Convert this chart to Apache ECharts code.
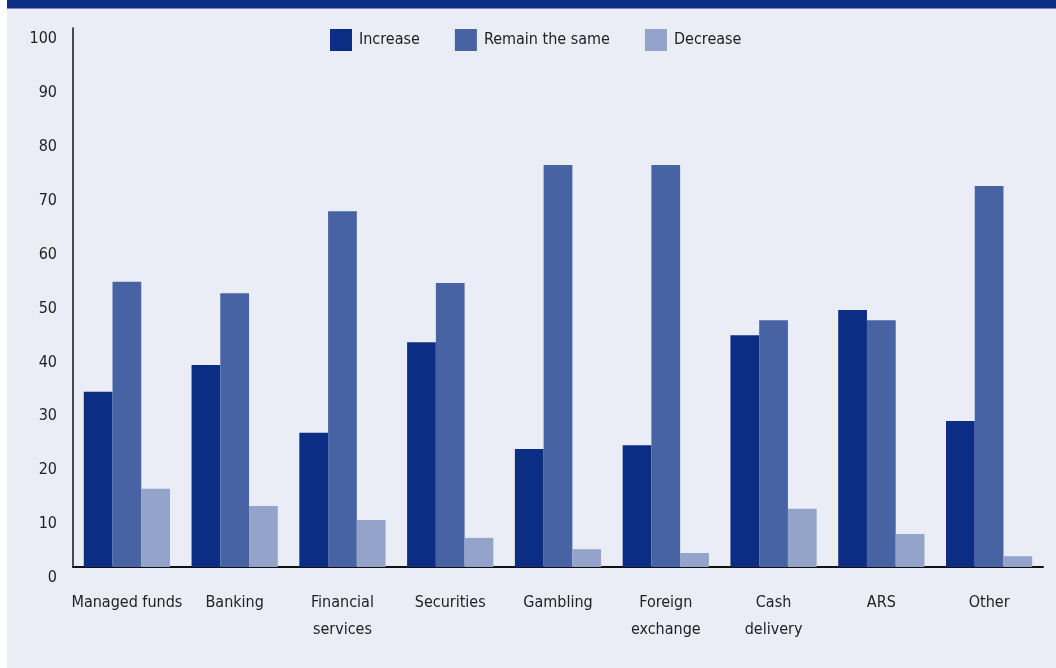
<!DOCTYPE html>
<html>
<head>
<meta charset="utf-8">
<script src="https://cdn.jsdelivr.net/npm/echarts@6/dist/echarts.min.js"></script>
<style>
  html, body { margin: 0; padding: 0; background: #ffffff; }
  #chart { width: 1056px; height: 668px; }
</style>
</head>
<body>
<div id="chart"></div>
<script>
// Sectors along the x axis
const categories = ['Managed funds', 'Banking', 'Financial\nservices', 'Securities', 'Gambling',
  'Foreign\nexchange', 'Cash\ndelivery', 'ARS', 'Other'];

// Share of respondents (%)
const increase = [32.5, 37.5, 24.9, 41.7, 21.9, 22.6, 43.0, 47.7, 27.1];
const remainSame = [52.9, 50.8, 66.0, 52.7, 74.6, 74.6, 45.8, 45.8, 70.7];
const decrease = [14.5, 11.3, 8.7, 5.4, 3.3, 2.6, 10.8, 6.1, 2.0];

const yTicks = [0, 10, 20, 30, 40, 50, 60, 70, 80, 90, 100];

const seriesNames = ['Increase', 'Remain the same', 'Decrease'];
const colors = ['#0b2e84', '#4763a3', '#93a3c9'];

const FONT = "'DejaVu Sans Condensed', 'Liberation Sans', sans-serif";
const TEXT = '#222222';

const chart = echarts.init(document.getElementById('chart'), null, { renderer: 'canvas' });

chart.setOption({
  animation: false,
  backgroundColor: '#ffffff',
  color: colors,
  graphic: [
    { type: 'rect', z: -10, silent: true,
      shape: { x: 7, y: 0, width: 1049, height: 668 },
      style: { fill: '#eaedf5' } },
    { type: 'rect', z: -9, silent: true,
      shape: { x: 7, y: 0, width: 1049, height: 8.5 },
      style: { fill: '#0b2e84' } }
  ],
  legend: {
    left: 330,
    top: 29,
    padding: 0,
    itemWidth: 22,
    itemHeight: 22,
    itemGap: 35,
    icon: 'rect',
    textStyle: { fontFamily: FONT, fontSize: 16, color: TEXT, padding: [0, 0, 0, 2] },
    data: seriesNames
  },
  grid: { left: 73, right: 13, top: 28, bottom: 101, containLabel: false },
  xAxis: {
    type: 'category',
    data: categories,
    axisLine: { show: true, lineStyle: { color: '#111111', width: 2 } },
    axisTick: { show: false },
    axisLabel: {
      interval: 0,
      margin: 22,
      fontFamily: FONT,
      fontSize: 16,
      lineHeight: 27,
      color: TEXT,
      verticalAlign: 'top'
    },
    splitLine: { show: false }
  },
  yAxis: {
    type: 'value',
    min: 0,
    max: 100,
    interval: 10,
    axisLine: { show: true, lineStyle: { color: '#111111', width: 1.5 } },
    axisTick: { show: false },
    splitLine: { show: false },
    axisLabel: {
      margin: 16,
      fontFamily: FONT,
      fontSize: 16,
      color: TEXT,
      verticalAlign: 'top',
      lineHeight: 22,
      formatter: function (v) { return yTicks.indexOf(v) >= 0 ? String(v) : ''; }
    }
  },
  series: [
    { name: seriesNames[0], type: 'bar', data: increase, barGap: '0%', barCategoryGap: '20%' },
    { name: seriesNames[1], type: 'bar', data: remainSame, barGap: '0%', barCategoryGap: '20%' },
    { name: seriesNames[2], type: 'bar', data: decrease, barGap: '0%', barCategoryGap: '20%' }
  ]
});
</script>
</body>
</html>
